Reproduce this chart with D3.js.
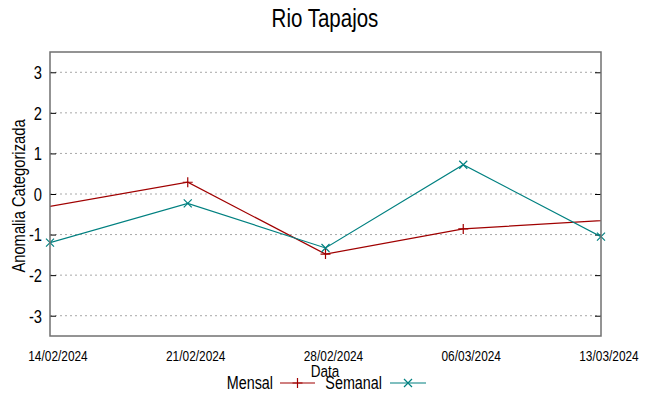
<!DOCTYPE html>
<html><head><meta charset="utf-8">
<script src="https://cdn.jsdelivr.net/npm/d3@7"></script>
<style>
body{margin:0;background:#fff;}
text{font-family:"Liberation Sans",Arial,sans-serif;fill:#000;}
</style></head>
<body><svg id="c" width="649" height="396"></svg>
<script>
const title = "Rio Tapajos";
const xTickLabels = ["14/02/2024","21/02/2024","28/02/2024","06/03/2024","13/03/2024"];
const yTicks = [-3,-2,-1,0,1,2,3];
const semanalDates = ["14/02/2024","21/02/2024","28/02/2024","06/03/2024","13/03/2024"];
const semanalValues = [-1.2,-0.23,-1.33,0.72,-1.05];
const mensalDates = ["07/02/2024","21/02/2024","28/02/2024","06/03/2024","20/03/2024"];
const mensalValues = [-0.9,0.29,-1.48,-0.86,-0.45];

const SX = 0.82; // condensed look
const parse = d3.timeParse("%d/%m/%Y");
const svg = d3.select("#c");
const m = {l:50, r:601, t:52, b:336};
const x = d3.scaleTime().domain([parse(xTickLabels[0]), parse(xTickLabels[xTickLabels.length-1])]).range([m.l, m.r]);
const y = d3.scaleLinear().domain([-3.5,3.5]).range([m.b, m.t]);

function ntext(g, tx, ty, str, size, anchor){
  return g.append("text").attr("x",tx/SX).attr("y",ty).attr("transform",`scale(${SX},1)`)
    .attr("text-anchor",anchor||"middle").attr("font-size",size).text(str);
}

ntext(svg,325,27,title,25);

// grid
svg.append("g").selectAll("line").data(yTicks).join("line")
  .attr("x1",m.l).attr("x2",m.r).attr("y1",d=>y(d)).attr("y2",d=>y(d))
  .attr("stroke","#a8a8a8").attr("stroke-width",1).attr("stroke-dasharray","2,3");

// left axis
const yl = svg.append("g").attr("transform",`translate(${m.l},0)`)
  .call(d3.axisLeft(y).tickValues(yTicks).tickSize(-6).tickPadding(8).tickFormat(d=>String(d)));
yl.select(".domain").remove();
yl.selectAll("line").attr("stroke","#000");
yl.selectAll("text").attr("font-size",18).attr("font-family","Liberation Sans, sans-serif")
  .attr("x",-8/SX).attr("transform",`scale(${SX},1)`).attr("dy","0.35em");
// right axis ticks
const yr = svg.append("g").attr("transform",`translate(${m.r},0)`)
  .call(d3.axisRight(y).tickValues(yTicks).tickSize(-6).tickFormat(""));
yr.select(".domain").remove();
yr.selectAll("line").attr("stroke","#000");

// x axis labels
const xa = svg.append("g").attr("transform",`translate(0,${m.b})`)
  .call(d3.axisBottom(x).tickValues(xTickLabels.map(parse)).tickSize(0).tickPadding(15).tickFormat(d3.timeFormat("%d/%m/%Y")));
xa.select(".domain").remove();
xa.selectAll("text").attr("font-size",14.5).attr("font-family","Liberation Sans, sans-serif")
  .attr("x",7.5/SX).attr("y",25).attr("dy",0).attr("transform",`scale(${SX},1)`);

// clip
svg.append("clipPath").attr("id","clip").append("rect").attr("x",m.l).attr("y",m.t).attr("width",m.r-m.l).attr("height",m.b-m.t);

const colM = "#a00000", colS = "#008080";
const line = d3.line().x(d=>x(d.d)).y(d=>y(d.v));
const mData = mensalDates.map((d,i)=>({d:parse(d), v:mensalValues[i]}));
const sData = semanalDates.map((d,i)=>({d:parse(d), v:semanalValues[i]}));
const plot = svg.append("g").attr("clip-path","url(#clip)");
plot.append("path").datum(mData).attr("d",line).attr("fill","none").attr("stroke",colM).attr("stroke-width",1.2);
plot.append("path").datum(sData).attr("d",line).attr("fill","none").attr("stroke",colS).attr("stroke-width",1.2);
const plus = (g,cx,cy,c)=>{g.append("path").attr("d",`M${cx-5},${cy}H${cx+5}M${cx},${cy-5}V${cy+5}`).attr("stroke",c).attr("stroke-width",1.2);};
const cross = (g,cx,cy,c)=>{g.append("path").attr("d",`M${cx-4},${cy-4}L${cx+4},${cy+4}M${cx-4},${cy+4}L${cx+4},${cy-4}`).attr("stroke",c).attr("stroke-width",1.2);};
const mk = svg.append("g");
mData.filter(d=>d.d>=x.domain()[0]&&d.d<=x.domain()[1]).forEach(d=>plus(mk,x(d.d),y(d.v),colM));
sData.forEach(d=>cross(mk,x(d.d),y(d.v),colS));

// frame
svg.append("rect").attr("x",m.l).attr("y",m.t).attr("width",m.r-m.l).attr("height",m.b-m.t)
  .attr("fill","none").attr("stroke","#707070").attr("stroke-width",1.5);

// axis titles
svg.append("text").attr("transform",`translate(25,196) rotate(-90) scale(${SX},1)`).attr("text-anchor","middle").attr("font-size",18).text("Anomalia Categorizada");
ntext(svg,325,377,"Data",16.5);

// legend
const lg = svg.append("g");
ntext(lg,273,389,"Mensal",17.5,"end");
lg.append("line").attr("x1",280).attr("x2",315).attr("y1",383).attr("y2",383).attr("stroke",colM).attr("stroke-width",1.2);
plus(lg,297.5,383,colM);
ntext(lg,382,389,"Semanal",17.5,"end");
lg.append("line").attr("x1",390).attr("x2",426).attr("y1",383).attr("y2",383).attr("stroke",colS).attr("stroke-width",1.2);
cross(lg,408,383,colS);
</script></body></html>
